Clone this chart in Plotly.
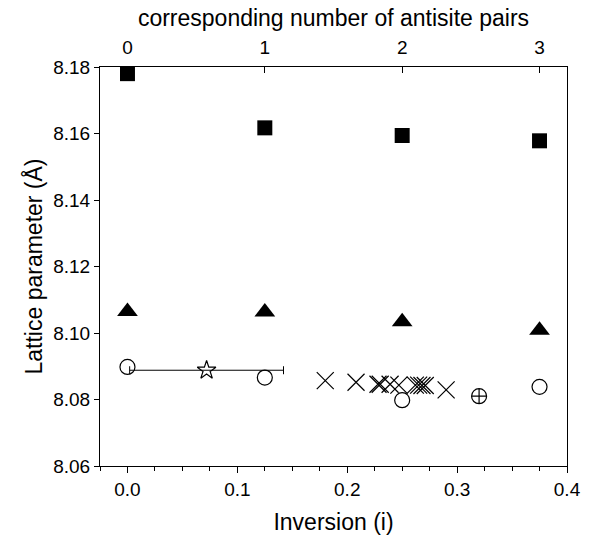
import plotly.graph_objects as go

# ---- data ----
inv_sq = [0.0, 0.125, 0.25, 0.375]
lat_sq = [8.178, 8.1617, 8.1594, 8.1578]

inv_tri = [0.0, 0.125, 0.25, 0.375]
lat_tri = [8.1065, 8.1063, 8.1034, 8.1008]

inv_circ = [0.0, 0.125, 0.25, 0.375]
lat_circ = [8.0898, 8.0866, 8.0798, 8.0838]

inv_star = [0.072]
lat_star = [8.0888]
err_star = [0.07]

inv_x = [0.18, 0.208, 0.228, 0.230, 0.239, 0.247, 0.262, 0.265, 0.268, 0.271, 0.29]
lat_x = [8.0857, 8.0852, 8.0846, 8.0846, 8.0846, 8.0843, 8.0843, 8.0843, 8.0842, 8.0842, 8.0829]

inv_cc = [0.32]
lat_cc = [8.0810]

pairs_ticks = [0, 1, 2, 3]

FONT = "Arial, Liberation Sans, sans-serif"
BLACK = "#000000"

fig = go.Figure()

fig.add_trace(go.Scatter(x=inv_sq, y=lat_sq, mode="markers",
                         marker=dict(symbol="square", size=15, color=BLACK),
                         cliponaxis=False, showlegend=False))
fig.add_trace(go.Scatter(x=inv_tri, y=lat_tri, mode="markers",
                         marker=dict(symbol="triangle-up", size=18, color=BLACK),
                         cliponaxis=False, showlegend=False))
fig.add_trace(go.Scatter(x=inv_circ, y=lat_circ, mode="markers",
                         marker=dict(symbol="circle-open", size=15, color=BLACK,
                                     line=dict(width=1.2, color=BLACK)),
                         cliponaxis=False, showlegend=False))
fig.add_trace(go.Scatter(x=inv_star, y=lat_star, mode="markers",
                         marker=dict(symbol="star-open", size=14, color=BLACK,
                                     line=dict(width=1.2, color=BLACK)),
                         error_x=dict(type="data", array=err_star, symmetric=True,
                                      color=BLACK, thickness=1, width=4),
                         cliponaxis=False, showlegend=False))
fig.add_trace(go.Scatter(x=inv_x, y=lat_x, mode="markers",
                         marker=dict(symbol="x-thin-open", size=17, color=BLACK,
                                     line=dict(width=1.2, color=BLACK)),
                         cliponaxis=False, showlegend=False))
fig.add_trace(go.Scatter(x=inv_cc, y=lat_cc, mode="markers",
                         marker=dict(symbol="circle-cross-open", size=15, color=BLACK,
                                     line=dict(width=1.2, color=BLACK)),
                         cliponaxis=False, showlegend=False))
# invisible trace to activate the top axis
fig.add_trace(go.Scatter(x=pairs_ticks, y=[lat_sq[-1]] * len(pairs_ticks), xaxis="x2",
                         mode="markers", marker=dict(opacity=0),
                         hoverinfo="skip", showlegend=False))

fig.update_layout(
    width=613, height=536,
    margin=dict(l=100, r=46, t=67, b=70),
    plot_bgcolor="white", paper_bgcolor="white",
    font=dict(family=FONT, color=BLACK, size=19),
    xaxis=dict(
        range=[-0.025, 0.4], tick0=0, dtick=0.1, tickformat=".1f",
        ticks="outside", ticklen=6, tickwidth=1, tickcolor=BLACK,
        minor=dict(dtick=0.025, tick0=0, ticks="outside", ticklen=3.5,
                   tickwidth=1, tickcolor=BLACK),
        showline=True, linecolor=BLACK, linewidth=1, mirror=False,
        showgrid=False, zeroline=False, automargin=False,
        tickfont=dict(size=19),
        title=dict(text="Inversion (i)", font=dict(size=23), standoff=15),
    ),
    xaxis2=dict(
        overlaying="x", side="top", anchor="y",
        range=[-0.2, 3.2], tickvals=pairs_ticks, ticktext=[str(v) for v in pairs_ticks],
        ticks="inside", ticklen=6, tickwidth=1, tickcolor=BLACK,
        showline=True, linecolor=BLACK, linewidth=1,
        showgrid=False, zeroline=False, automargin=False,
        tickfont=dict(size=19), ticklabelstandoff=4,
        title=dict(text="corresponding number of antisite pairs", font=dict(size=23), standoff=4),
    ),
    yaxis=dict(
        range=[8.06, 8.18], tick0=8.06, dtick=0.02, tickformat=".2f",
        ticks="outside", ticklen=5, tickwidth=1, tickcolor=BLACK,
        showline=True, linecolor=BLACK, linewidth=1, mirror=True,
        showgrid=False, zeroline=False, automargin=False,
        tickfont=dict(size=19),
        title=dict(text="Lattice parameter (Å)", font=dict(size=23), standoff=4),
    ),
)

fig.write_html("out.html", config={"displayModeBar": False},
               post_script="document.body.style.margin='0';")
